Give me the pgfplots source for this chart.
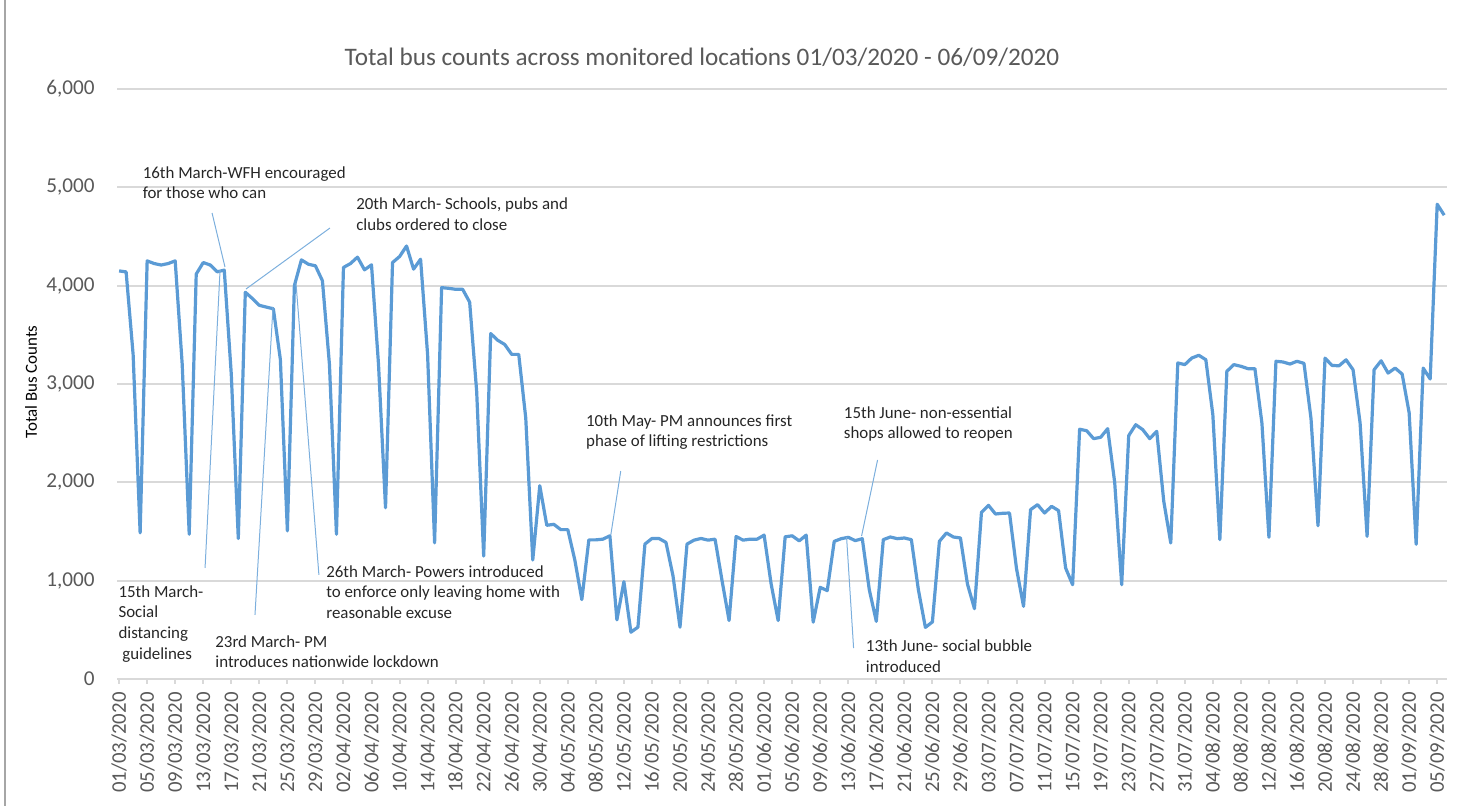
\documentclass[border=0pt]{standalone}
\usepackage{fontspec}
\setmainfont{Carlito}
\usepackage{pgfplots}
\pgfplotsset{compat=1.18}
\definecolor{busblue}{HTML}{5B9BD5}
\definecolor{tickgray}{HTML}{595959}
\definecolor{gridgray}{HTML}{D9D9D9}
\definecolor{annot}{HTML}{262626}
\begin{document}
\begin{tikzpicture}[
  annot/.style={font=\fontsize{8.45}{10.3}\selectfont, text=annot, anchor=base west, align=left, inner sep=0pt},
  leader/.style={draw=busblue!80, line width=0.5pt}]
\useasboundingbox (0,0) rectangle (733pt,403pt);
\draw[color=black!35, line width=0.6pt] (2.5pt,0) -- (2.5pt,403pt);
\node[font=\fontsize{12.6}{14}\selectfont, text=tickgray, anchor=center] at (351pt,374.5pt) {Total bus counts across monitored locations 01/03/2020 - 06/09/2020};
\node[font=\fontsize{8.45}{10}\selectfont, text=black, rotate=90, anchor=center] at (15.5pt,212pt) {Total Bus Counts};
\begin{axis}[
  at={(58.5pt,63.5pt)}, anchor=south west,
  scale only axis, width=665pt, height=295pt,
  xmin=-0.3, xmax=189.4, ymin=0, ymax=6000,
  clip=false,
  separate axis lines,
  axis x line*=bottom, axis y line*=left,
  x axis line style={draw=gridgray, line width=1pt, -},
  y axis line style={draw=none},
  ytick={0,1000,...,6000},
  ymajorgrids, major grid style={draw=gridgray, line width=1pt},
  ytick style={draw=none},
  /pgf/number format/1000 sep={,},
  /pgf/number format/assume math mode=true,
  scaled y ticks=false,
  yticklabel style={font=\fontsize{10.6}{12}\selectfont, text=tickgray, anchor=east, inner sep=0pt},
  yticklabel shift=8.5pt,
  xtick={0,4,...,188},
  xticklabels={01/03/2020,05/03/2020,09/03/2020,13/03/2020,17/03/2020,21/03/2020,25/03/2020,29/03/2020,02/04/2020,06/04/2020,10/04/2020,14/04/2020,18/04/2020,22/04/2020,26/04/2020,30/04/2020,04/05/2020,08/05/2020,12/05/2020,16/05/2020,20/05/2020,24/05/2020,28/05/2020,01/06/2020,05/06/2020,09/06/2020,13/06/2020,17/06/2020,21/06/2020,25/06/2020,29/06/2020,03/07/2020,07/07/2020,11/07/2020,15/07/2020,19/07/2020,23/07/2020,27/07/2020,31/07/2020,04/08/2020,08/08/2020,12/08/2020,16/08/2020,20/08/2020,24/08/2020,28/08/2020,01/09/2020,05/09/2020},
  xticklabel style={rotate=90, anchor=east, inner sep=0pt, font=\fontsize{10.4}{12}\selectfont, text=tickgray},
  xticklabel shift=4pt,
  xtick style={draw=gridgray, line width=1pt},
  tick align=outside, major tick length=2.5pt,
]
\addplot[busblue, line width=1.6pt, line join=round, mark=none] coordinates {
(0,4150) (1,4140) (2,3300) (3,1486) (4,4252) (5,4225) (6,4210) (7,4225) (8,4252) (9,3200)
(10,1472) (11,4118) (12,4235) (13,4210) (14,4141) (15,4158) (16,3100) (17,1428) (18,3933) (19,3870)
(20,3800) (21,3782) (22,3765) (23,3250) (24,1506) (25,4000) (26,4262) (27,4218) (28,4202) (29,4050)
(30,3200) (31,1472) (32,4185) (33,4225) (34,4290) (35,4161) (36,4212) (37,3200) (38,1741) (39,4235)
(40,4296) (41,4403) (42,4168) (43,4269) (44,3300) (45,1385) (46,3980) (47,3973) (48,3963) (49,3963)
(50,3832) (51,2924) (52,1250) (53,3513) (54,3445) (55,3402) (56,3301) (57,3301) (58,2655) (59,1210)
(60,1966) (61,1563) (62,1573) (63,1519) (64,1519) (65,1210) (66,807) (67,1415) (68,1415) (69,1422)
(70,1456) (71,601) (72,990) (73,476) (74,527) (75,1372) (76,1429) (77,1429) (78,1389) (79,1050)
(80,527) (81,1372) (82,1412) (83,1429) (84,1412) (85,1422) (86,1000) (87,595) (88,1449) (89,1412)
(90,1422) (91,1422) (92,1463) (93,966) (94,595) (95,1446) (96,1456) (97,1405) (98,1463) (99,578)
(100,932) (101,899) (102,1400) (103,1427) (104,1441) (105,1407) (106,1427) (107,908) (108,586) (109,1417)
(110,1444) (111,1427) (112,1434) (113,1417) (114,908) (115,525) (116,580) (117,1400) (118,1485) (119,1444)
(120,1434) (121,966) (122,715) (123,1695) (124,1766) (125,1678) (126,1685) (127,1688) (128,1122) (129,739)
(130,1722) (131,1773) (132,1688) (133,1756) (134,1712) (135,1129) (136,959) (137,2540) (138,2525) (139,2444)
(140,2458) (141,2546) (142,2000) (143,959) (144,2475) (145,2586) (146,2536) (147,2444) (148,2519) (149,1807)
(150,1383) (151,3214) (152,3197) (153,3264) (154,3292) (155,3247) (156,2688) (157,1417) (158,3129) (159,3197)
(160,3180) (161,3156) (162,3156) (163,2603) (164,1441) (165,3231) (166,3224) (167,3203) (168,3231) (169,3210)
(170,2650) (171,1558) (172,3263) (173,3189) (174,3185) (175,3246) (176,3145) (177,2606) (178,1451) (179,3145)
(180,3236) (181,3111) (182,3162) (183,3101) (184,2707) (185,1370) (186,3162) (187,3051) (188,4828) (189,4717)
};
% leader lines
\draw[leader] (13.26,4739) -- (15.1,4190);
\draw[leader] (30.07,4586) -- (18.1,3966);
\draw[leader] (19.38,651) -- (21.95,3783);
\draw[leader] (28.5,1058) -- (25.23,4027);
\draw[leader] (12.26,1129) -- (14.4,4159);
\draw[leader] (71.55,2115) -- (70.13,1464);
\draw[leader] (108.18,2227) -- (105.9,1454);
\draw[leader] (104.76,315) -- (103.76,1444);
% annotations (anchor = baseline of the last line)
\node[annot] at (3.32,4885) {16th March-WFH encouraged\\for those who can};
\node[annot] at (33.78,4560) {20th March- Schools, pubs and\\clubs ordered to close};
\node[annot] at (13.68,112) {23rd March- PM\\introduces nationwide lockdown};
\node[annot] at (29.5,615) {26th March- Powers introduced\\to enforce only leaving home with\\reasonable excuse};
\node[annot] at (-0.14,202) {15th March-\\Social\\distancing\\\ guidelines};
\node[annot] at (66.56,2363) {10th May- PM announces first\\phase of lifting restrictions};
\node[annot] at (103.33,2441) {15th June- non-essential\\shops allowed to reopen};
\node[annot] at (106.47,68) {13th June- social bubble\\introduced};
\end{axis}
\end{tikzpicture}
\end{document}
